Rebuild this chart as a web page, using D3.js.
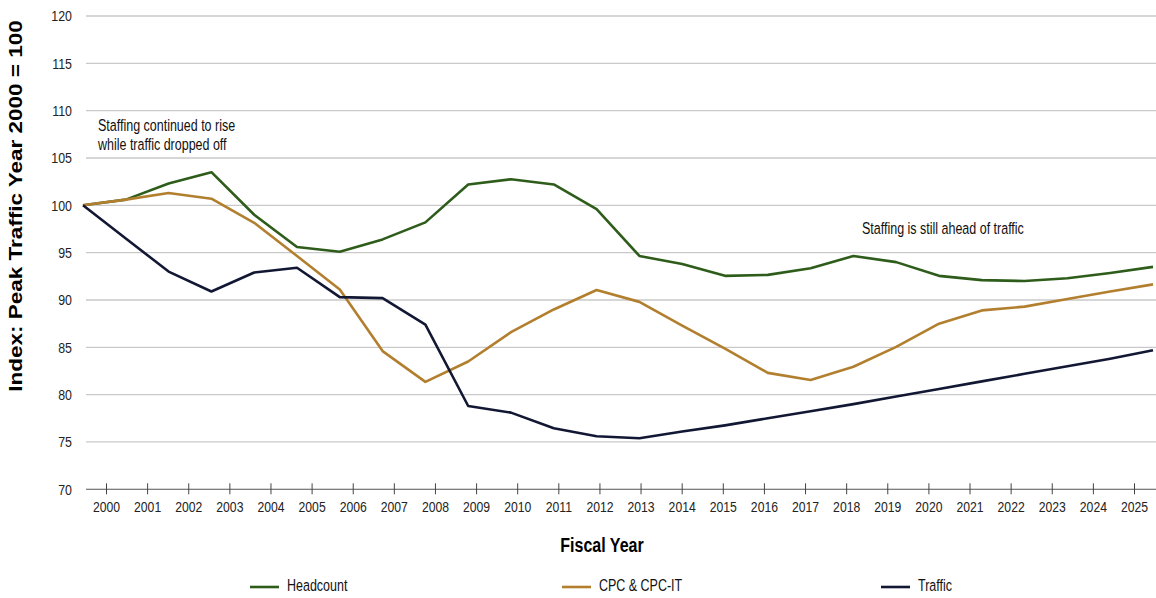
<!DOCTYPE html>
<html>
<head>
<meta charset="utf-8">
<script src="https://cdn.jsdelivr.net/npm/d3@7"></script>
<style>
  html, body { margin: 0; padding: 0; background: #fff; }
  svg { display: block; font-family: "Liberation Sans", Arial, sans-serif; }
</style>
</head>
<body>
<svg id="chart" width="1156" height="598"></svg>
<script>
// ---- data ----
const years = ["2000","2001","2002","2003","2004","2005","2006","2007","2008","2009","2010","2011","2012",
  "2013","2014","2015","2016","2017","2018","2019","2020","2021","2022","2023","2024","2025"];
const headcount = [100, 100.6, 102.3, 103.5, 99.0, 95.6, 95.1, 96.4, 98.2, 102.2, 102.75, 102.2, 99.6,
  94.65, 93.8, 92.55, 92.65, 93.35, 94.65, 94.0, 92.55, 92.1, 92.0, 92.3, 92.85, 93.5];
const cpc = [100, 100.6, 101.3, 100.7, 98.15, 94.65, 91.1, 84.6, 81.35, 83.5, 86.6, 89.0, 91.05,
  89.8, 87.3, 84.85, 82.3, 81.55, 82.95, 85.05, 87.5, 88.9, 89.3, 90.1, 90.9, 91.65];
const traffic = [100, 96.5, 93.0, 90.9, 92.9, 93.4, 90.3, 90.2, 87.4, 78.8, 78.1, 76.45, 75.6,
  75.4, 76.1, 76.75, 77.5, 78.25, 79.0, 79.8, 80.6, 81.4, 82.2, 83.0, 83.8, 84.7];
const yTicks = [70, 75, 80, 85, 90, 95, 100, 105, 110, 115, 120];
const seriesNames = ["Headcount", "CPC & CPC-IT", "Traffic"];
const seriesColors = ["#2e5c1a", "#b27f2e", "#121833"];

// ---- layout ----
const svg = d3.select("#chart");
const SY = 1.25; // vertical text stretch seen in reference

const y = d3.scaleLinear().domain([70, 120]).range([489.3, 16]);
const xTick = d3.scalePoint().domain(years).range([106, 1134]);
const xLine = d3.scalePoint().domain(years).range([83, 1153]);
const gridX0 = 86, gridX1 = 1156;

// gridlines
svg.append("g").selectAll("line")
  .data(yTicks.filter(d => d > 70))
  .join("line")
  .attr("x1", gridX0).attr("x2", gridX1)
  .attr("y1", d => y(d)).attr("y2", d => y(d))
  .attr("stroke", "#c9c9c9").attr("stroke-width", 1.3);

// y axis (labels only)
const yAxis = svg.append("g")
  .attr("transform", "translate(80,0)")
  .call(d3.axisLeft(y).tickValues(yTicks).tickSize(0).tickPadding(8));
yAxis.select(".domain").remove();
yAxis.selectAll("text")
  .attr("font-family", "Liberation Sans, Arial, sans-serif")
  .attr("font-size", 12.4)
  .attr("fill", "#222")
  .attr("transform", `scale(1,${SY})`);

// x axis line
svg.append("line")
  .attr("x1", gridX0).attr("x2", gridX1)
  .attr("y1", y(70)).attr("y2", y(70))
  .attr("stroke", "#555").attr("stroke-width", 1.1);

// x axis ticks + labels
const xAxis = svg.append("g")
  .attr("transform", `translate(0,${y(70)})`)
  .call(d3.axisBottom(xTick).tickSize(5).tickSizeOuter(0).tickPadding(6));
xAxis.select(".domain").remove();
xAxis.selectAll(".tick line").attr("y1", -6).attr("y2", 5).attr("stroke", "#444").attr("stroke-width", 1);
xAxis.selectAll("text")
  .attr("font-family", "Liberation Sans, Arial, sans-serif")
  .attr("font-size", 12.2)
  .attr("fill", "#222")
  .attr("y", 0).attr("dy", null)
  .attr("transform", `translate(0,18.5) scale(1,${SY})`)
  .attr("dominant-baseline", "middle");

// lines
const allSeries = [headcount, cpc, traffic];
const lineGen = d3.line().x((d, i) => xLine(years[i])).y(d => y(d));
svg.append("g").selectAll("path")
  .data(allSeries)
  .join("path")
  .attr("d", d => lineGen(d))
  .attr("fill", "none")
  .attr("stroke", (d, i) => seriesColors[i])
  .attr("stroke-width", 2.6)
  .attr("stroke-linejoin", "round");

// helper for stretched text
function stext(x, yy, str, opts = {}) {
  return svg.append("text")
    .attr("transform", `translate(${x},${yy}) scale(1,${SY})${opts.rotate ? " rotate(-90)" : ""}`)
    .attr("font-size", opts.size || 12.5)
    .attr("font-weight", opts.weight || "normal")
    .attr("text-anchor", opts.anchor || "start")
    .attr("dominant-baseline", "middle")
    .attr("fill", opts.fill || "#111")
    .text(str);
}

// annotations
stext(98, 126.5, "Staffing continued to rise");
stext(98, 145.5, "while traffic dropped off");
stext(862, 229.5, "Staffing is still ahead of traffic");

// axis titles
stext(17.5, 206, "Index: Peak Traffic Year 2000 = 100", { size: 18, weight: "bold", anchor: "middle", rotate: true, fill: "#000" });
stext(602, 547, "Fiscal Year", { size: 16, weight: "bold", anchor: "middle", fill: "#000" });

// legend
const legendTextX = [287, 599, 918];
const lg = svg.append("g").selectAll("g")
  .data(seriesNames)
  .join("g");
lg.append("line")
  .attr("x1", (d, i) => legendTextX[i] - 37)
  .attr("x2", (d, i) => legendTextX[i] - 8)
  .attr("y1", 587).attr("y2", 587)
  .attr("stroke", (d, i) => seriesColors[i])
  .attr("stroke-width", 2.6);
lg.each(function(d, i) {
  stext(legendTextX[i], 587, d);
});
</script>
</body>
</html>
